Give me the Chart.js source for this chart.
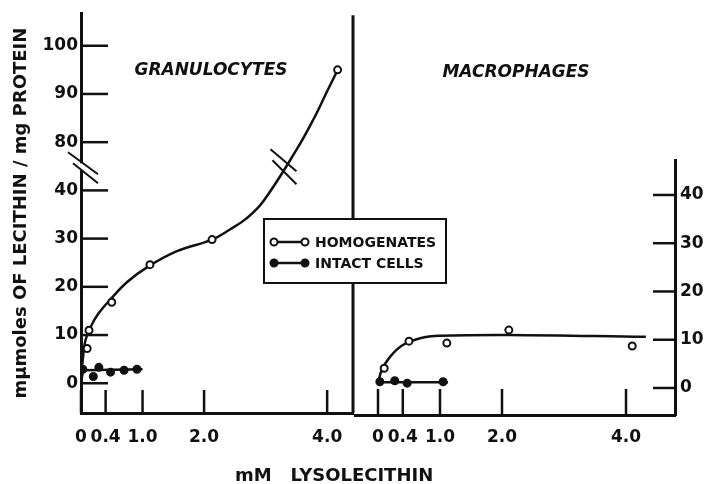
<!DOCTYPE html>
<html>
<head>
<meta charset="utf-8">
<title>Lecithin formation from lysolecithin</title>
<style>
  html, body { margin: 0; padding: 0; background: #fff; }
  #wrap { position: relative; width: 708px; height: 484px; }
  #granChart { position: absolute; left: 0; top: 0; }
  #macroChart { position: absolute; left: 354px; top: 0; pointer-events: none; }
</style>
<script src="https://cdn.jsdelivr.net/npm/chart.js@4.4.1/dist/chart.umd.min.js"></script>
</head>
<body>
<div id="wrap">
  <canvas id="granChart" width="708" height="484"></canvas>
  <canvas id="macroChart" width="354" height="484"></canvas>
</div>
<script>
const INK = '#111';
const FONT = 'DejaVu Sans';

// x axis (mM lysolecithin), same ticks in both panels
const xTickValues = [0, 0.4, 1, 2, 4];
const xTickLabels = ['0', '0.4', '1.0', '2.0', '4.0'];

// left axis is broken: the 40..80 stretch is squeezed into one step
const granYTicks = [0, 10, 20, 30, 40, 80, 90, 100];
const macroYTicks = [0, 10, 20, 30, 40];
const BREAK_LOW = 40;
const BREAK_HIGH = 80;

// Granulocytes - homogenates (open circles) and the drawn curve
const granHomX = [0.1, 0.13, 0.5, 1.12, 2.13, 4.17];
const granHomY = [7.2, 11, 16.8, 24.6, 29.8, 95];
const granHomFitX = [0, 0.03, 0.07, 0.15, 0.28, 0.5, 0.76, 1.09, 1.56, 2.13, 2.42, 2.69, 2.96, 3.51, 3.78, 3.99, 4.17];
const granHomFitY = [1, 5, 8.8, 11.5, 14.4, 17.7, 21.1, 24.2, 27.4, 29.8, 31.9, 34.2, 37.7, 74.4, 84.8, 90.3, 95];

// Granulocytes - intact cells (filled circles)
const granIntX = [0.03, 0.2, 0.29, 0.48, 0.7, 0.91];
const granIntY = [2.9, 1.4, 3.3, 2.3, 2.7, 2.9];
const granIntFitX = [0, 0.04, 1.0];
const granIntFitY = [0.5, 2.7, 2.9];

// Macrophages
const macroHomX = [0.1, 0.5, 1.11, 2.11, 4.1];
const macroHomY = [4.1, 9.7, 9.3, 12, 8.7];
const macroHomFitX = [0, 0.06, 0.19, 0.4, 0.68, 1.0, 2.1, 4.32];
const macroHomFitY = [1, 3.7, 6.4, 8.9, 10.3, 10.8, 11, 10.6];
const macroIntX = [0.03, 0.27, 0.47, 1.05];
const macroIntY = [1.3, 1.5, 1.0, 1.3];
const macroIntFitX = [0, 1.13];
const macroIntFitY = [1.2, 1.2];

// value -> position on the broken left axis
const toAxis = v => {
  if (v <= BREAK_LOW) return v;
  if (v >= BREAK_HIGH) return v - (BREAK_HIGH - BREAK_LOW - 10);
  return BREAK_LOW + (v - BREAK_LOW) * 10 / (BREAK_HIGH - BREAK_LOW);
};
const pts = (xs, ys, f = v => v) => xs.map((x, i) => ({ x, y: f(ys[i]) }));

const curve = (data, tension) => ({
  data,
  showLine: true,
  borderColor: INK,
  borderWidth: 2.5,
  pointRadius: 0,
  tension,
  fill: false,
  order: 1,
});

const dots = (data, filled) => ({
  data,
  showLine: false,
  pointRadius: 3.5,
  pointBorderWidth: 2,
  pointBorderColor: INK,
  pointBackgroundColor: filled ? INK : '#fff',
  order: 0,
});

const tickFont = { family: FONT, size: 17, weight: 'bold' };

function xScale(min, max, height, pad) {
  return {
    type: 'linear',
    min, max,
    afterBuildTicks: s => { s.ticks = xTickValues.map(v => ({ value: v })); },
    afterFit: s => { s.height = height; },
    grid: { display: false, drawTicks: false },
    border: { display: true, color: INK, width: 3 },
    ticks: {
      autoSkip: false,
      maxRotation: 0,
      color: INK,
      font: tickFont,
      padding: pad,
      callback: (v, i) => xTickLabels[i],
    },
  };
}

function line(ctx, x1, y1, x2, y2) {
  ctx.beginPath();
  ctx.moveTo(x1, y1);
  ctx.lineTo(x2, y2);
  ctx.stroke();
}

// divider, inward ticks, axis breaks, titles and legend of the left panel
const granDecor = {
  id: 'granDecor',
  afterDraw(chart) {
    const { ctx, chartArea: a, scales: { x, y } } = chart;
    ctx.save();
    ctx.strokeStyle = INK;
    ctx.fillStyle = INK;

    ctx.lineWidth = 3;
    line(ctx, a.right, a.top + 2, a.right, a.bottom);

    ctx.lineWidth = 2.5;
    granYTicks.forEach(v => {
      const py = y.getPixelForValue(toAxis(v));
      line(ctx, a.left, py, a.left + 27, py);
    });
    xTickValues.forEach(v => {
      const px = x.getPixelForValue(v);
      line(ctx, px, a.bottom, px, a.bottom - 23);
    });

    // break on the y axis
    const cy = y.getPixelForValue(toAxis(60));
    ctx.fillStyle = '#fff';
    ctx.fillRect(a.left - 3, cy - 3, 6, 7);
    ctx.lineWidth = 2;
    line(ctx, a.left - 13, cy - 14, a.left + 17, cy + 8);
    line(ctx, a.left - 8, cy - 3, a.left + 17, cy + 17);

    // break on the homogenate curve
    const bx = x.getPixelForValue(3.29);
    const by = y.getPixelForValue(toAxis(60));
    line(ctx, bx - 13, by - 17, bx + 13, by + 5);
    line(ctx, bx - 11, by - 6, bx + 13, by + 18);

    ctx.fillStyle = INK;
    ctx.textAlign = 'center';
    ctx.textBaseline = 'alphabetic';
    ctx.font = `italic bold 17px "${FONT}"`;
    ctx.fillText('GRANULOCYTES', 211, 75);
    ctx.fillText('MACROPHAGES', 516, 77);

    ctx.font = `bold 18px "${FONT}"`;
    ctx.textAlign = 'left';
    ctx.fillText('mM   LYSOLECITHIN', 235, 481);

    // legend
    ctx.fillStyle = '#fff';
    ctx.fillRect(264, 219, 182, 64);
    ctx.lineWidth = 2;
    ctx.strokeRect(264, 219, 182, 64);
    const rows = [
      { label: 'HOMOGENATES', filled: false, y: 242 },
      { label: 'INTACT CELLS', filled: true, y: 263 },
    ];
    ctx.font = `bold 14px "${FONT}"`;
    ctx.textBaseline = 'middle';
    rows.forEach(r => {
      ctx.lineWidth = 2.5;
      line(ctx, 274, r.y, 305, r.y);
      [274, 305].forEach(cx => {
        ctx.beginPath();
        ctx.arc(cx, r.y, 3.5, 0, Math.PI * 2);
        ctx.fillStyle = r.filled ? INK : '#fff';
        ctx.fill();
        ctx.lineWidth = 2;
        ctx.stroke();
      });
      ctx.fillStyle = INK;
      ctx.fillText(r.label, 315, r.y + 1);
    });
    ctx.restore();
  },
};

const macroDecor = {
  id: 'macroDecor',
  afterDraw(chart) {
    const { ctx, chartArea: a, scales: { x, y } } = chart;
    ctx.save();
    ctx.strokeStyle = INK;
    ctx.lineWidth = 2.5;
    macroYTicks.forEach(v => {
      const py = y.getPixelForValue(v);
      line(ctx, a.right, py, a.right - 22, py);
    });
    xTickValues.forEach(v => {
      const px = x.getPixelForValue(v);
      line(ctx, px, a.bottom, px, a.bottom - 26);
    });
    ctx.restore();
  },
};

const common = {
  responsive: false,
  animation: false,
  devicePixelRatio: 1,
  plugins: { legend: { display: false }, tooltip: { enabled: false } },
};

new Chart(document.getElementById('granChart').getContext('2d'), {
  type: 'scatter',
  data: {
    datasets: [
      dots(pts(granHomX, granHomY, toAxis), false),
      dots(pts(granIntX, granIntY), true),
      curve(pts(granHomFitX, granHomFitY, toAxis), 0.4),
      curve(pts(granIntFitX, granIntFitY), 0),
    ],
  },
  options: {
    ...common,
    layout: { autoPadding: false, padding: { top: 10, right: 355, left: 0, bottom: 0 } },
    scales: {
      x: xScale(0, 4.42, 71, 14),
      y: {
        type: 'linear',
        min: -6.17,
        max: 76.75,
        afterBuildTicks: s => { s.ticks = granYTicks.map(v => ({ value: toAxis(v) })); },
        afterFit: s => { s.width = 81; },
        grid: { display: false, drawTicks: false },
        border: { display: true, color: INK, width: 3 },
        ticks: {
          autoSkip: false,
          color: INK,
          font: tickFont,
          padding: 3,
          callback: (v, i) => String(granYTicks[i]),
        },
        title: {
          display: true,
          text: 'mμmoles OF LECITHIN / mg PROTEIN',
          color: INK,
          font: { family: FONT, size: 18, weight: 'bold' },
          padding: { top: 11, bottom: 0 },
        },
      },
    },
  },
  plugins: [granDecor],
});

new Chart(document.getElementById('macroChart').getContext('2d'), {
  type: 'scatter',
  data: {
    datasets: [
      dots(pts(macroHomX, macroHomY), false),
      dots(pts(macroIntX, macroIntY), true),
      curve(pts(macroHomFitX, macroHomFitY), 0.4),
      curve(pts(macroIntFitX, macroIntFitY), 0),
    ],
  },
  options: {
    ...common,
    layout: { autoPadding: false, padding: { top: 160, right: 0, left: 0, bottom: 0 } },
    scales: {
      x: xScale(-0.387, 4.79, 69, 12),
      y: {
        type: 'linear',
        position: 'right',
        min: -5.6,
        max: 47.25,
        afterBuildTicks: s => { s.ticks = macroYTicks.map(v => ({ value: v })); },
        afterFit: s => { s.width = 33; },
        grid: { display: false, drawTicks: false },
        border: { display: true, color: INK, width: 3 },
        ticks: {
          autoSkip: false,
          color: INK,
          font: tickFont,
          padding: 5,
          callback: (v, i) => String(macroYTicks[i]),
        },
      },
    },
  },
  plugins: [macroDecor],
});
</script>
</body>
</html>
